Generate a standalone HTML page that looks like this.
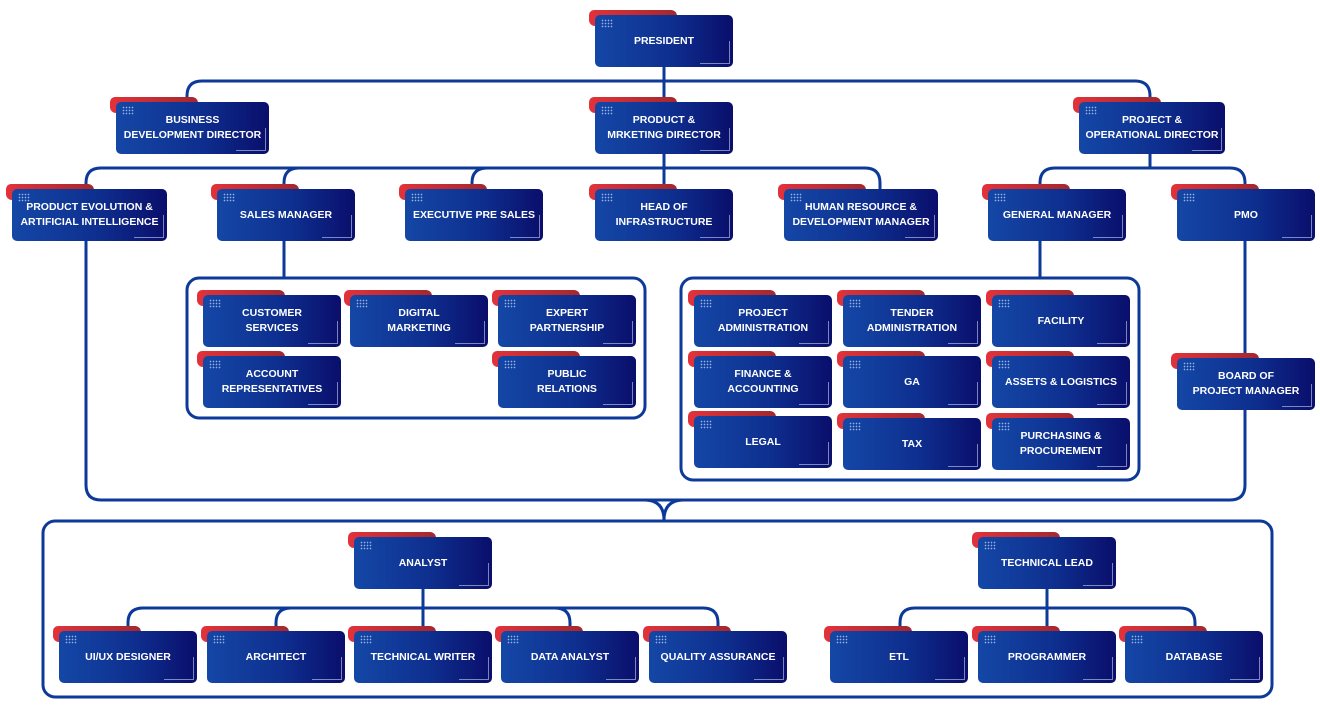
<!DOCTYPE html>
<html><head><meta charset="utf-8"><style>
body{margin:0;width:1320px;height:709px;background:#fff;position:relative;overflow:hidden;font-family:"Liberation Sans",Arial,sans-serif}
svg.l{position:absolute;left:0;top:0}
.n{position:absolute;width:138px;height:52px}
.n .t{position:absolute;left:-6px;top:-5px;width:88px;height:16px;border-radius:5px 6px 3px 6px;background:linear-gradient(90deg,#e2323a,#a3282e)}
.n .b{position:absolute;left:0;top:0;width:100%;height:52px;border-radius:5px;background:linear-gradient(90deg,#1447a6 0%,#0e2f8f 55%,#0a0e6b 100%);color:#fff;font-weight:bold;font-size:10.5px;line-height:15px;display:flex;align-items:center;justify-content:center;text-align:center;white-space:nowrap}
.n .d{position:absolute;left:6px;top:4px;width:12px;height:9px;background-image:radial-gradient(circle,#cfe0ff 0.7px,transparent 0.9px);background-size:3px 3px;opacity:.7}
.n .v{position:absolute;right:3px;top:26px;width:1px;height:22px;background:#c8d4f0;opacity:.6}
.n .h{position:absolute;right:3px;bottom:3px;width:30px;height:1px;background:#c8d4f0;opacity:.6}
</style></head><body>
<svg class="l" width="1320" height="709" fill="none" stroke="#0d3a98" stroke-width="3">
<path d="M664 67V102"/>
<path d="M187 102V96Q187 81 202 81H1135Q1150 81 1150 96V102"/>
<path d="M664 154V189"/>
<path d="M86 485V183Q86 168 101 168H865Q880 168 880 183V189"/>
<path d="M284 189V183Q284 168 299 168"/>
<path d="M472 189V183Q472 168 487 168"/>
<path d="M1150 154V168"/>
<path d="M1040 189V183Q1040 168 1055 168H1230Q1245 168 1245 183V485Q1245 500 1230 500H101Q86 500 86 485"/>
<path d="M644 500Q664 500 664 520Q664 500 684 500"/>
<path d="M284 241V278"/>
<path d="M1040 241V278"/>
<rect x="187" y="278" width="458" height="140" rx="12"/>
<rect x="681" y="278" width="458" height="202" rx="12"/>
<rect x="43" y="521" width="1229" height="176" rx="12"/>
<path d="M423 589V632"/>
<path d="M128 632V623Q128 608 143 608H703Q718 608 718 623V632"/>
<path d="M276 632V623Q276 608 291 608"/>
<path d="M570 632V623Q570 608 555 608"/>
<path d="M1047 589V632"/>
<path d="M900 632V623Q900 608 915 608H1180Q1195 608 1195 623V632"/>
</svg>

<div class="n" style="left:595px;top:15px"><div class="t"></div><div class="b">PRESIDENT</div><div class="d"></div><div class="v"></div><div class="h"></div></div>
<div class="n" style="left:116px;top:102px;width:153px"><div class="t"></div><div class="b">BUSINESS<br>DEVELOPMENT DIRECTOR</div><div class="d"></div><div class="v"></div><div class="h"></div></div>
<div class="n" style="left:595px;top:102px"><div class="t"></div><div class="b">PRODUCT &amp;<br>MRKETING DIRECTOR</div><div class="d"></div><div class="v"></div><div class="h"></div></div>
<div class="n" style="left:1079px;top:102px;width:146px"><div class="t"></div><div class="b">PROJECT &amp;<br>OPERATIONAL DIRECTOR</div><div class="d"></div><div class="v"></div><div class="h"></div></div>

<div class="n" style="left:12px;top:189px;width:155px"><div class="t"></div><div class="b">PRODUCT EVOLUTION &amp;<br>ARTIFICIAL INTELLIGENCE</div><div class="d"></div><div class="v"></div><div class="h"></div></div>
<div class="n" style="left:217px;top:189px"><div class="t"></div><div class="b">SALES MANAGER</div><div class="d"></div><div class="v"></div><div class="h"></div></div>
<div class="n" style="left:405px;top:189px"><div class="t"></div><div class="b">EXECUTIVE PRE SALES</div><div class="d"></div><div class="v"></div><div class="h"></div></div>
<div class="n" style="left:595px;top:189px"><div class="t"></div><div class="b">HEAD OF<br>INFRASTRUCTURE</div><div class="d"></div><div class="v"></div><div class="h"></div></div>
<div class="n" style="left:784px;top:189px;width:154px"><div class="t"></div><div class="b">HUMAN RESOURCE &amp;<br>DEVELOPMENT MANAGER</div><div class="d"></div><div class="v"></div><div class="h"></div></div>
<div class="n" style="left:988px;top:189px"><div class="t"></div><div class="b">GENERAL MANAGER</div><div class="d"></div><div class="v"></div><div class="h"></div></div>
<div class="n" style="left:1177px;top:189px"><div class="t"></div><div class="b">PMO</div><div class="d"></div><div class="v"></div><div class="h"></div></div>

<div class="n" style="left:203px;top:295px"><div class="t"></div><div class="b">CUSTOMER<br>SERVICES</div><div class="d"></div><div class="v"></div><div class="h"></div></div>
<div class="n" style="left:350px;top:295px"><div class="t"></div><div class="b">DIGITAL<br>MARKETING</div><div class="d"></div><div class="v"></div><div class="h"></div></div>
<div class="n" style="left:498px;top:295px"><div class="t"></div><div class="b">EXPERT<br>PARTNERSHIP</div><div class="d"></div><div class="v"></div><div class="h"></div></div>
<div class="n" style="left:203px;top:356px"><div class="t"></div><div class="b">ACCOUNT<br>REPRESENTATIVES</div><div class="d"></div><div class="v"></div><div class="h"></div></div>
<div class="n" style="left:498px;top:356px"><div class="t"></div><div class="b">PUBLIC<br>RELATIONS</div><div class="d"></div><div class="v"></div><div class="h"></div></div>

<div class="n" style="left:694px;top:295px"><div class="t"></div><div class="b">PROJECT<br>ADMINISTRATION</div><div class="d"></div><div class="v"></div><div class="h"></div></div>
<div class="n" style="left:843px;top:295px"><div class="t"></div><div class="b">TENDER<br>ADMINISTRATION</div><div class="d"></div><div class="v"></div><div class="h"></div></div>
<div class="n" style="left:992px;top:295px"><div class="t"></div><div class="b">FACILITY</div><div class="d"></div><div class="v"></div><div class="h"></div></div>
<div class="n" style="left:694px;top:356px"><div class="t"></div><div class="b">FINANCE &amp;<br>ACCOUNTING</div><div class="d"></div><div class="v"></div><div class="h"></div></div>
<div class="n" style="left:843px;top:356px"><div class="t"></div><div class="b">GA</div><div class="d"></div><div class="v"></div><div class="h"></div></div>
<div class="n" style="left:992px;top:356px"><div class="t"></div><div class="b">ASSETS &amp; LOGISTICS</div><div class="d"></div><div class="v"></div><div class="h"></div></div>
<div class="n" style="left:694px;top:416px"><div class="t"></div><div class="b">LEGAL</div><div class="d"></div><div class="v"></div><div class="h"></div></div>
<div class="n" style="left:843px;top:418px"><div class="t"></div><div class="b">TAX</div><div class="d"></div><div class="v"></div><div class="h"></div></div>
<div class="n" style="left:992px;top:418px"><div class="t"></div><div class="b">PURCHASING &amp;<br>PROCUREMENT</div><div class="d"></div><div class="v"></div><div class="h"></div></div>

<div class="n" style="left:1177px;top:358px"><div class="t"></div><div class="b">BOARD OF<br>PROJECT MANAGER</div><div class="d"></div><div class="v"></div><div class="h"></div></div>

<div class="n" style="left:354px;top:537px"><div class="t"></div><div class="b">ANALYST</div><div class="d"></div><div class="v"></div><div class="h"></div></div>
<div class="n" style="left:978px;top:537px"><div class="t"></div><div class="b">TECHNICAL LEAD</div><div class="d"></div><div class="v"></div><div class="h"></div></div>

<div class="n" style="left:59px;top:631px"><div class="t"></div><div class="b">UI/UX DESIGNER</div><div class="d"></div><div class="v"></div><div class="h"></div></div>
<div class="n" style="left:207px;top:631px"><div class="t"></div><div class="b">ARCHITECT</div><div class="d"></div><div class="v"></div><div class="h"></div></div>
<div class="n" style="left:354px;top:631px"><div class="t"></div><div class="b">TECHNICAL WRITER</div><div class="d"></div><div class="v"></div><div class="h"></div></div>
<div class="n" style="left:501px;top:631px"><div class="t"></div><div class="b">DATA ANALYST</div><div class="d"></div><div class="v"></div><div class="h"></div></div>
<div class="n" style="left:649px;top:631px"><div class="t"></div><div class="b">QUALITY ASSURANCE</div><div class="d"></div><div class="v"></div><div class="h"></div></div>
<div class="n" style="left:830px;top:631px"><div class="t"></div><div class="b">ETL</div><div class="d"></div><div class="v"></div><div class="h"></div></div>
<div class="n" style="left:978px;top:631px"><div class="t"></div><div class="b">PROGRAMMER</div><div class="d"></div><div class="v"></div><div class="h"></div></div>
<div class="n" style="left:1125px;top:631px"><div class="t"></div><div class="b">DATABASE</div><div class="d"></div><div class="v"></div><div class="h"></div></div>
</body></html>
